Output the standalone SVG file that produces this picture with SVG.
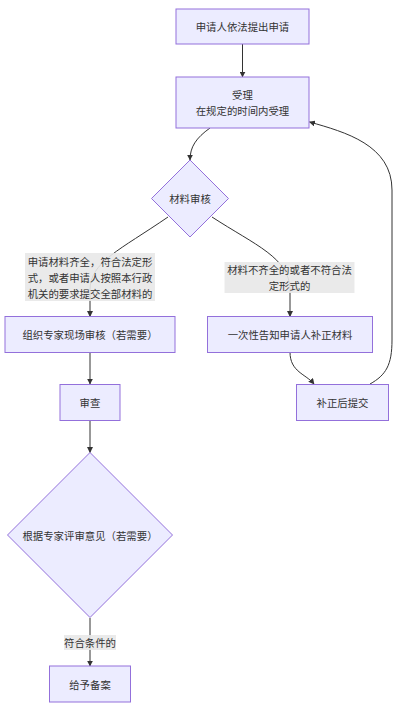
<svg xmlns="http://www.w3.org/2000/svg" width="400" height="711" viewBox="0 0 400 711">
<style>
.node rect, .node polygon { fill: #ECECFF; stroke: #9370DB; stroke-width: 1; }
.edge { fill: none; stroke: #333333; stroke-width: 1; }
text { font-family: "Noto Sans CJK SC", "Noto Sans", sans-serif; font-size: 10.4px; fill: #333333; text-anchor: middle; dominant-baseline: central; }
.lbl rect { fill: #e8e8e8; fill-opacity: 0.9; stroke: none; }
</style>
<defs>
<marker id="arr" viewBox="0 0 10 10" refX="9" refY="5" markerWidth="6" markerHeight="6" orient="auto-start-reverse" markerUnits="userSpaceOnUse">
<path d="M0,0 L10,5 L0,10 z" fill="#333333"/>
</marker>
</defs>
<rect width="400" height="711" fill="#ffffff"/>
<g id="edges">
<path class="edge" d="M242.5,44 L242.5,77" marker-end="url(#arr)"/>
<path class="edge" d="M210,128 C196,138 190,147 190,160" marker-end="url(#arr)"/>
<path class="edge" d="M168,217 C120,250 90,262 90,290 L90,316.5" marker-end="url(#arr)"/>
<path class="edge" d="M212,217 C255,245 290,258 290,290 L290,316.5" marker-end="url(#arr)"/>
<path class="edge" d="M290,352 C290,372 306,374 314,384" marker-end="url(#arr)"/>
<path class="edge" d="M370,384 C386,375 392,365 392,340 L392,190 C392,145 345,132 309.5,122" marker-end="url(#arr)"/>
<path class="edge" d="M90,352.5 L90,384" marker-end="url(#arr)"/>
<path class="edge" d="M90,420.5 L90,452.5" marker-end="url(#arr)"/>
<path class="edge" d="M90,618 L90,666" marker-end="url(#arr)"/>
</g>
<g id="edge-labels">
<g class="lbl" id="label-yes">
<rect x="25" y="253" width="130" height="48"/>
<text x="90" y="261">申请材料齐全，符合法定形</text>
<text x="90" y="277">式，或者申请人按照本行政</text>
<text x="90" y="293">机关的要求提交全部材料的</text>
</g>
<g class="lbl" id="label-no">
<rect x="224.5" y="262" width="130" height="31"/>
<text x="289.5" y="269.5">材料不齐全的或者不符合法</text>
<text x="289.5" y="285">定形式的</text>
</g>
<g class="lbl" id="label-ok">
<rect x="64" y="635" width="52" height="15"/>
<text x="90" y="642.5">符合条件的</text>
</g>
</g>
<g class="node" id="n-apply">
<rect x="176" y="9" width="133" height="35"/>
<text x="242.5" y="26.5">申请人依法提出申请</text>
</g>
<g class="node" id="n-accept">
<rect x="176" y="77" width="133" height="51"/>
<text x="242.5" y="94">受理</text>
<text x="242.5" y="110">在规定的时间内受理</text>
</g>
<g class="node" id="n-check">
<polygon points="190,160 228.5,198.5 190,237 151.5,198.5"/>
<text x="190" y="198.5">材料审核</text>
</g>
<g class="node" id="n-expert">
<rect x="5" y="316.5" width="170" height="36"/>
<text x="90" y="334.5">组织专家现场审核（若需要）</text>
</g>
<g class="node" id="n-notify">
<rect x="207.5" y="316.5" width="165" height="36"/>
<text x="290" y="334.5">一次性告知申请人补正材料</text>
</g>
<g class="node" id="n-review">
<rect x="60" y="384.5" width="60" height="36"/>
<text x="90" y="402.5">审查</text>
</g>
<g class="node" id="n-resubmit">
<rect x="296.5" y="384.5" width="92" height="36"/>
<text x="342.5" y="402.5">补正后提交</text>
</g>
<g class="node" id="n-opinion">
<polygon points="90,452.5 172.5,535 90,617.5 7.5,535"/>
<text x="90" y="535">根据专家评审意见（若需要）</text>
</g>
<g class="node" id="n-file">
<rect x="49.5" y="666" width="81" height="36"/>
<text x="90" y="684">给予备案</text>
</g>
</svg>
